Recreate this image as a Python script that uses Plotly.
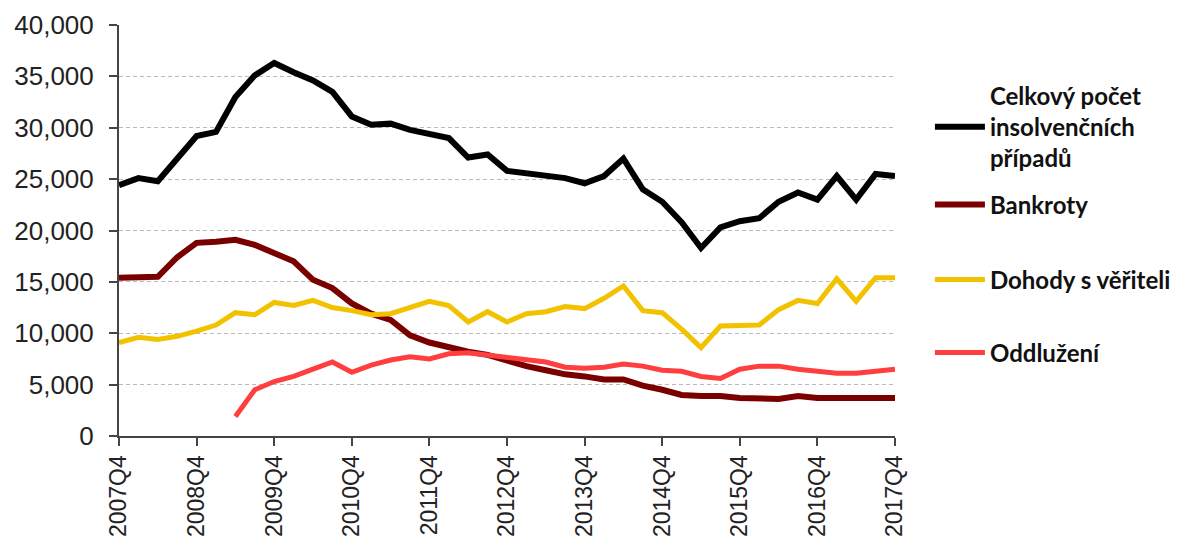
import plotly.graph_objects as go

quarters = [f"{y}Q{q}" for y in range(2007, 2018) for q in (1, 2, 3, 4)]
quarters = quarters[3:]  # 2007Q4 .. 2017Q4 (41 quarters)
tick_labels = ["2007Q4", "2008Q4", "2009Q4", "2010Q4", "2011Q4", "2012Q4",
               "2013Q4", "2014Q4", "2015Q4", "2016Q4", "2017Q4"]

celkovy = [24400, 25100, 24800, 27100, 29200, 29600, 33000, 35100, 36300, 35400,
           34600, 33500, 31100, 30300, 30400, 29800, 29400, 29000, 27100, 27400,
           25800, 25600, 25400, 25100, 24600, 25300, 27000, 24000, 22800, 20800,
           18300, 20300, 20900, 21200, 22800, 23700, 23000, 25300, 23000, 25500,
           25300]
bankroty = [15400, 15500, 15500, 17400, 18800, 18900, 19100, 18600, 17800, 17000,
            15200, 14400, 12900, 11900, 11300, 9800, 9100, 8600, 8200, 7900,
            7300, 6800, 6400, 6000, 5800, 5500, 5500, 4900, 4500, 4000,
            3900, 3900, 3700, 3700, 3600, 3900, 3700, 3700, 3700, 3700,
            3700]
dohody = [9100, 9600, 9400, 9700, 10200, 10800, 12000, 11800, 13000, 12700,
          13200, 12500, 12200, 11800, 11900, 12500, 13100, 12700, 11100, 12100,
          11100, 11900, 12100, 12600, 12400, 13400, 14600, 12200, 12000, 10400,
          8600, 10700, 10700, 10800, 12300, 13200, 12900, 15300, 13100, 15400,
          15400]
oddluzeni = [None, None, None, None, None, None, 1900, 4500, 5300, 5800,
             6500, 7200, 6200, 6900, 7400, 7700, 7500, 8000, 8100, 7900,
             7600, 7400, 7200, 6700, 6600, 6700, 7000, 6800, 6400, 6300,
             5800, 5600, 6500, 6800, 6800, 6500, 6300, 6100, 6100, 6300,
             6500]

series_names = ["Celkový počet<br>insolvenčních<br>případů", "Bankroty",
                "Dohody s věřiteli", "Oddlužení"]
series_values = [celkovy, bankroty, dohody, oddluzeni]
series_colors = ["#000000", "#7a0000", "#f2c200", "#ff3f3f"]
series_widths = [6, 6, 5, 5]
legend_ids = ["legend", "legend2", "legend3", "legend4"]
legend_y = [0.752, 0.562, 0.380, 0.202]

fig = go.Figure()
for name, vals, color, w, lid in zip(series_names, series_values, series_colors,
                                     series_widths, legend_ids):
    fig.add_trace(go.Scatter(
        x=quarters, y=vals, name=name, mode="lines",
        line=dict(color=color, width=w), legend=lid,
    ))

legend_font = dict(family="Lato", size=24, color="#111111", weight="bold")
layout_legends = {}
for lid, ly in zip(legend_ids, legend_y):
    layout_legends[lid] = dict(
        x=1.045, y=ly, xanchor="left", yanchor="middle",
        font=legend_font, valign="middle", itemwidth=50,
        bgcolor="rgba(0,0,0,0)",
    )

fig.update_layout(
    width=1186, height=542,
    margin=dict(l=119, r=291, t=25, b=106, autoexpand=False),
    paper_bgcolor="white", plot_bgcolor="white",
    showlegend=True,
    font=dict(family="Liberation Sans", color="#222222"),
    **layout_legends,
)
fig.update_xaxes(
    type="category", range=[0, 40],
    tickmode="array", tickvals=tick_labels, ticktext=tick_labels,
    tickangle=-90, tickfont=dict(family="Liberation Sans", size=23, color="#222222"),
    ticks="outside", ticklen=8, tickwidth=2, tickcolor="#444444",
    showline=True, linecolor="#444444", linewidth=2,
    showgrid=False, zeroline=False, automargin=False,
)
fig.update_yaxes(
    range=[0, 40000], tickvals=list(range(0, 40001, 5000)),
    tickformat=",d", tickfont=dict(family="Liberation Sans", size=26, color="#222222"),
    ticks="outside", ticklen=8, tickwidth=2, tickcolor="#444444",
    ticklabelstandoff=10,
    showline=True, linecolor="#444444", linewidth=2,
    showgrid=True, gridcolor="#bbbbbb", gridwidth=1, griddash="4px,3px",
    zeroline=False, automargin=False,
)

fig.write_html("out.html")
